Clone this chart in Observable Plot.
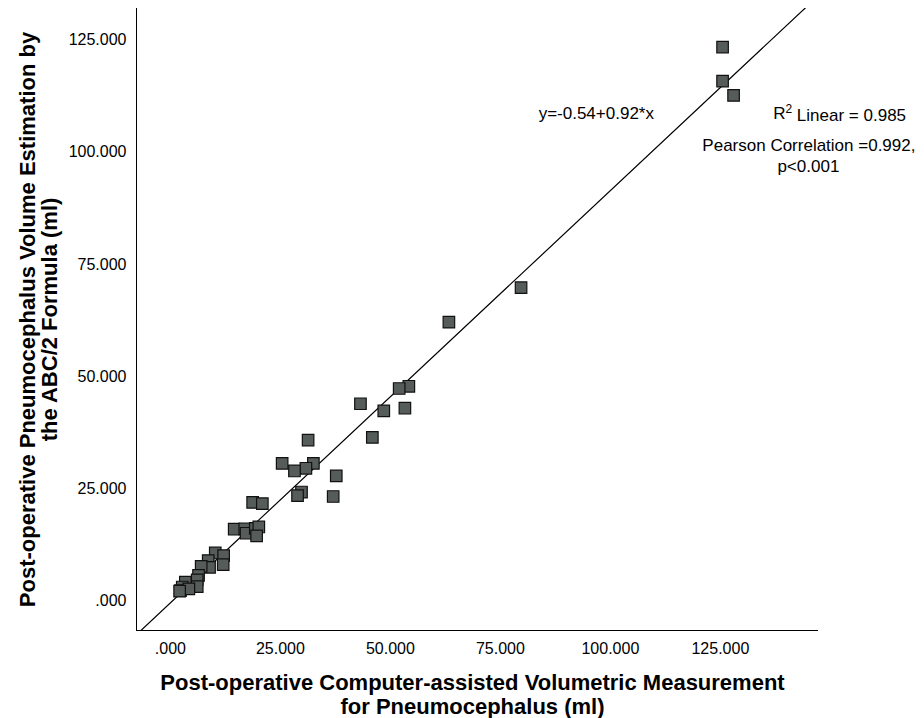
<!DOCTYPE html>
<html><head><meta charset="utf-8">
<script src="https://cdn.jsdelivr.net/npm/d3@7"></script>
<script src="https://cdn.jsdelivr.net/npm/@observablehq/plot@0.6"></script>
<style>body{margin:0;background:#fff;}</style>
</head><body><div id="chart"></div>
<script>
// Post-operative computer-assisted volumetric measurement (ml)
const xMeasured = [125.5,125.5,128.0,79.7,63.3,54.2,52.0,53.3,48.5,43.2,45.9,31.3,25.4,32.5,30.8,28.2,37.7,29.8,28.9,37.0,18.7,20.9,14.5,16.9,17.2,19.3,20.1,19.6,10.2,12.1,12.0,8.6,8.9,7.0,6.4,6.1,6.1,3.4,2.7,2.3,4.2,2.1];
// ABC/2 formula estimation (ml)
const yEstimated = [123.5,115.9,112.7,69.8,62.1,47.8,47.3,42.9,42.3,43.9,36.4,35.8,30.6,30.6,29.5,28.9,27.8,24.2,23.4,23.2,21.9,21.6,15.9,16.0,15.0,16.1,16.4,14.4,10.6,10.0,8.0,8.9,7.4,7.6,5.6,4.6,3.1,4.1,3.0,2.2,2.6,2.1];
const xTicks = [0,25,50,75,100,125];
const yTicks = [0,25,50,75,100,125];
const fitIntercept = -0.54;
const fitSlope = 0.92;
const xDomain = [-7.7,147.3];
const yDomain = [-6.7,132.1];
const annoText = ["y=-0.54+0.92*x","R² Linear = 0.985","Pearson Correlation =0.992,","p<0.001"];
const annoX = [96.8,137.0,120.9,145.0];
const annoY = [108.7,108.7,101.5,96.8];
const annoAnchor = ["middle","start","start","middle"];
const xTitle = "Post-operative Computer-assisted Volumetric Measurement\nfor Pneumocephalus (ml)";
const yTitle = "Post-operative Pneumocephalus Volume Estimation by\nthe ABC/2 Formula (ml)";

const points = xMeasured.map((x,i)=>({x, y: yEstimated[i]}));
const fitLine = xDomain.map(x=>({x, y: fitIntercept + fitSlope*x}));
const annos = annoText.map((t,i)=>({t, x: annoX[i], y: annoY[i], a: annoAnchor[i]}));
const fmt = d => d === 0 ? ".000" : d3.format(".3f")(d);

const plot = Plot.plot({
  width: 924, height: 718,
  marginLeft: 136, marginRight: 106, marginTop: 8, marginBottom: 88,
  style: {fontFamily: "'Liberation Sans', Arial, sans-serif", fontSize: "16px", color: "#000", background: "#fff"},
  x: {domain: xDomain},
  y: {domain: yDomain},
  marks: [
    Plot.axisX(xTicks, {tickSize: 0, tickPadding: 12, tickFormat: fmt, label: null, fontSize: 16}),
    Plot.axisY(yTicks, {tickSize: 0, tickPadding: 10, tickFormat: fmt, label: null, fontSize: 16}),
    Plot.ruleX([xDomain[0]], {stroke: "#000", strokeWidth: 1}),
    Plot.ruleY([yDomain[0]], {stroke: "#000", strokeWidth: 1}),
    Plot.line(fitLine, {x: "x", y: "y", stroke: "#000", strokeWidth: 1.2, clip: true}),
    Plot.dot(points, {x: "x", y: "y", symbol: "square", r: 6.5, fill: "#555c5a", stroke: "#111", strokeWidth: 1.2}),
    Plot.text(annos.filter(d=>d.a==="middle"), {x: "x", y: "y", text: "t", textAnchor: "middle", fontSize: 17, fill: "#000"}),
    Plot.text(annos.filter(d=>d.a==="start"), {x: "x", y: "y", text: "t", textAnchor: "start", fontSize: 17, fill: "#000"}),
    Plot.text([xTitle], {frameAnchor: "bottom", dy: 64, dx: -5, textAnchor: "middle", lineAnchor: "middle", lineHeight: 1.08, fontSize: 22, fontWeight: "bold", fill: "#000"}),
    Plot.text([yTitle], {frameAnchor: "left", dx: -98, rotate: -90, textAnchor: "middle", lineAnchor: "middle", lineHeight: 1.0, fontSize: 22, fontWeight: "bold", fill: "#000"})
  ]
});
document.getElementById("chart").appendChild(plot);
// superscript for R²
d3.select(plot).selectAll("text").filter(function(){return this.textContent === "R² Linear = 0.985";}).each(function(){
  const t = d3.select(this);
  t.text(null);
  t.append("tspan").text("R");
  t.append("tspan").attr("dy", "-0.45em").attr("font-size", "12px").text("2");
  t.append("tspan").attr("dy", "0.45em").text(" Linear = 0.985");
});
</script>
</body></html>
